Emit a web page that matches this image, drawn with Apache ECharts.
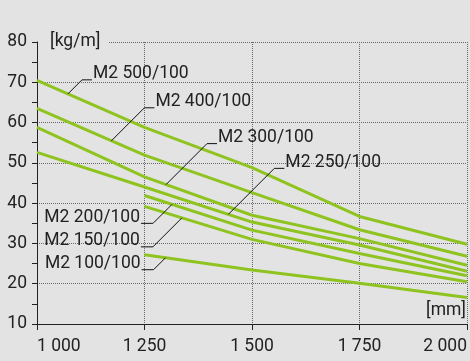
<!DOCTYPE html>
<html>
<head>
<meta charset="utf-8">
<script src="https://cdn.jsdelivr.net/npm/echarts@6/dist/echarts.min.js"></script>
<style>
html,body{margin:0;padding:0;background:#e3e3e3;}
#chart{width:470px;height:361px;}
</style>
</head>
<body>
<div id="chart"></div>
<script>
// ---- data ----
const xValues = [1000, 1250, 1500, 1750, 2000];
const xTickLabels = ['1 000', '1 250', '1 500', '1 750', '2 000'];
const yTickLabels = [10, 20, 30, 40, 50, 60, 70, 80];
const seriesNames = ['M2 500/100', 'M2 400/100', 'M2 300/100', 'M2 250/100', 'M2 200/100', 'M2 150/100', 'M2 100/100'];
const m2_500 = [70.5, 58.8, 48.8, 36.7, 29.8];
const m2_400 = [63.5, 51.9, 42.6, 33.4, 26.8];
const m2_300 = [58.8, 46.5, 37.0, 31.2, 24.6];
const m2_250 = [52.6, 44.0, 35.3, 29.6, 23.1];
const m2_200 = [null, 41.9, 33.3, 27.5, 22.0];
const m2_150 = [null, 39.2, 31.0, 25.0, 20.5];
const m2_100 = [null, 27.2, 23.4, 20.1, 16.6];
const seriesValues = [m2_500, m2_400, m2_300, m2_250, m2_200, m2_150, m2_100];
// label anchor positions along each curve (x in mm)
const labelAnchorX = [1072, 1173, 1300, 1445, 1314, 1337, 1299];
const xUnit = '[mm]';
const yUnit = '[kg/m]';

// ---- styles ----
const BG = '#e3e3e3';
const GREEN = '#8fc31f';
const TXT = '#222222';
const FONT = 'Roboto';
const FS = 17.5;
const leaderStyle = [
  {side: 'right', d: 14}, {side: 'right', d: 33}, {side: 'right', d: 41}, {side: 'right', d: 46},
  {side: 'left', d: 19}, {side: 'left', d: 29}, {side: 'left', d: 12}
];

const chart = echarts.init(document.getElementById('chart'), null, {renderer: 'canvas'});

const series = seriesValues.map((vals, i) => ({
  name: seriesNames[i],
  type: 'line',
  data: xValues.map((x, j) => vals[j] == null ? null : [x, vals[j]]).filter(d => d),
  symbol: 'none',
  smooth: false,
  lineStyle: {color: GREEN, width: 3},
  z: 3,
  silent: true
}));

function dotted() {
  return {color: '#6a6a6a', width: 1, type: 'dotted'};
}

chart.setOption({
  backgroundColor: BG,
  animation: false,
  textStyle: {fontFamily: FONT},
  grid: {left: 37, right: 1, top: 42, bottom: 37},
  xAxis: {
    type: 'value', min: 1000, max: 2000, interval: 250,
    axisLine: {show: true, lineStyle: {color: TXT, width: 1}},
    axisTick: {show: true, length: 6, lineStyle: {color: TXT}},
    axisLabel: {
      color: TXT, fontFamily: FONT, fontSize: FS, margin: 14,
      alignMinLabel: 'left', alignMaxLabel: 'right',
      formatter: v => xTickLabels[xValues.indexOf(v)] || ''
    },
    splitLine: {show: true, lineStyle: dotted()}
  },
  yAxis: {
    type: 'value', min: 10, max: 80, interval: 10,
    axisLine: {show: true, lineStyle: {color: TXT, width: 1}},
    axisTick: {show: true, length: 5, lineStyle: {color: TXT}},
    minorTick: {show: true, splitNumber: 2, length: 5, lineStyle: {color: TXT}},
    axisLabel: {
      color: TXT, fontFamily: FONT, fontSize: FS, margin: 10,
      formatter: v => yTickLabels.indexOf(v) >= 0 ? String(v) : ''
    },
    splitLine: {show: true, lineStyle: dotted()}
  },
  series: series
});

function interp(vals, x) {
  for (let j = 0; j < xValues.length - 1; j++) {
    if (x >= xValues[j] && x <= xValues[j + 1] && vals[j] != null && vals[j + 1] != null) {
      const t = (x - xValues[j]) / (xValues[j + 1] - xValues[j]);
      return vals[j] + t * (vals[j + 1] - vals[j]);
    }
  }
  return null;
}

const graphics = [];
const topLeft = chart.convertToPixel({gridIndex: 0}, [1000, 80]);
graphics.push({type: 'rect', z: 50, shape: {x: topLeft[0] + 2, y: topLeft[1] - 8, width: 69, height: 16}, style: {fill: BG}});
graphics.push({type: 'text', z: 51, x: topLeft[0] + 13, y: topLeft[1], style: {text: yUnit, fill: TXT, font: FS + 'px ' + FONT, align: 'left', verticalAlign: 'middle'}});
const botRight = chart.convertToPixel({gridIndex: 0}, [2000, 10]);
graphics.push({type: 'text', z: 51, x: botRight[0] - 1, y: botRight[1] - 13, style: {text: xUnit, fill: TXT, font: FS + 'px ' + FONT, align: 'right', verticalAlign: 'middle', backgroundColor: BG}});

seriesNames.forEach((name, i) => {
  const ax = labelAnchorX[i];
  const ay = interp(seriesValues[i], ax);
  const p = chart.convertToPixel({gridIndex: 0}, [ax, ay]);
  const st = leaderStyle[i];
  let pts, tx, align;
  if (st.side === 'right') {
    const e = [p[0] + st.d, p[1] - st.d];
    pts = [p, e, [e[0] + 10, e[1]]];
    tx = e[0] + 11; align = 'left';
  } else {
    const e = [p[0] - st.d, p[1] + st.d];
    pts = [p, e, [e[0] - 12, e[1]]];
    tx = e[0] - 13; align = 'right';
  }
  graphics.push({type: 'polyline', z: 40, shape: {points: pts}, style: {stroke: '#111', lineWidth: 1, fill: null}});
  graphics.push({type: 'text', z: 41, x: tx, y: pts[2][1] - 6, style: {text: name, fill: TXT, font: FS + 'px ' + FONT, align: align, verticalAlign: 'middle'}});
});

chart.setOption({graphic: graphics});
</script>
</body>
</html>
